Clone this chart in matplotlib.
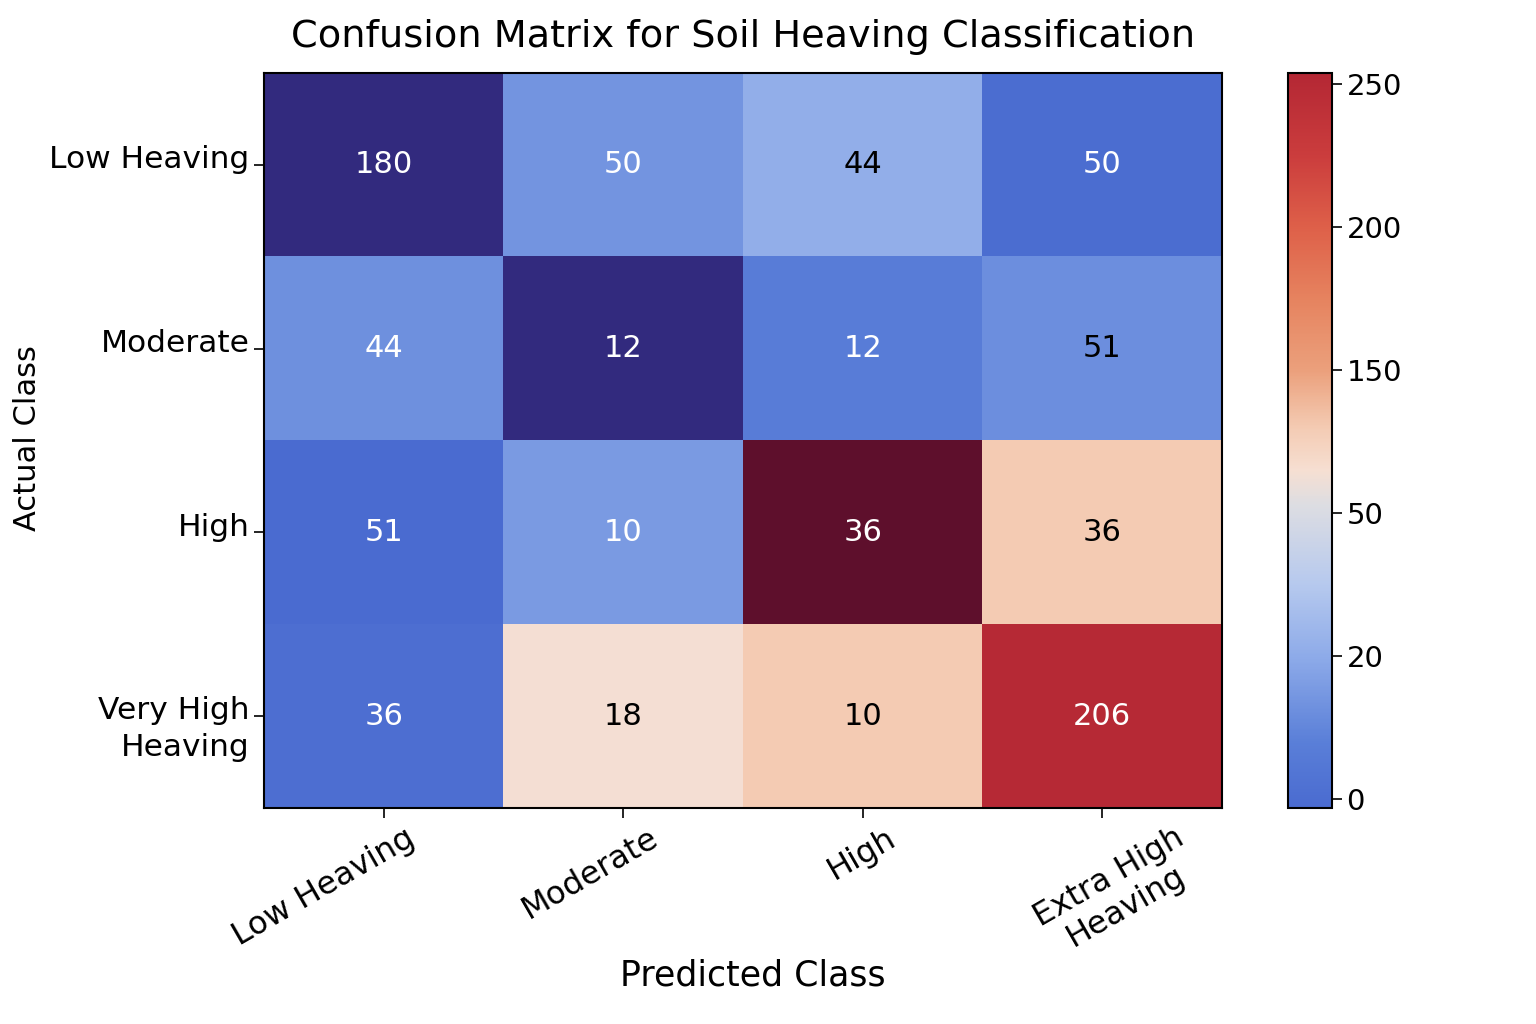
import numpy as np
import matplotlib
matplotlib.use("Agg")
import matplotlib.pyplot as plt
import matplotlib.transforms as mtransforms
from matplotlib.colors import LinearSegmentedColormap, Normalize

# ---- data ----
predicted_labels = ["Low Heaving", "Moderate", "High", "Extra High\nHeaving"]
actual_labels = ["Low Heaving", "Moderate", "High", "Very High\nHeaving"]

# numbers written in the cells
counts = [
    [180, 50, 44, 50],
    [44, 12, 12, 51],
    [51, 10, 36, 36],
    [36, 18, 10, 206],
]
# values that drive the cell colours
color_values = [
    [-50, 35, 53, 0],
    [32, -50, 18, 31],
    [-3, 39, 400, 130],
    [2, 114, 130, 250],
]
cbar_ticks = [0, 50, 100, 150, 200, 250]
cbar_ticklabels = ["0", "20", "50", "150", "200", "250"]

# ---- style ----
text_colors = [
    ["white", "white", "black", "white"],
    ["white", "white", "white", "black"],
    ["white", "white", "white", "black"],
    ["white", "black", "black", "white"],
]
vmin, vmax = -3, 254
anchors = [(-3, "#4a6bd0"), (20, "#5a7fd8"), (50, "#8eabe9"), (75, "#b6c9ee"),
           (103, "#dddde2"), (115, "#f6dfd2"), (130, "#f4cbb3"), (150, "#eba07c"),
           (175, "#e6835f"), (200, "#de6049"), (225, "#cb3d3d"), (254, "#b42734")]
xlabel_dx_px = [21, 25, 23, 72]

plt.rcParams["font.family"] = ["DejaVu Sans"]

cmap = LinearSegmentedColormap.from_list(
    "ref", [((v - vmin) / (vmax - vmin), c) for v, c in anchors], N=512)
cmap.set_under("#322a7e")
cmap.set_over("#5e0f2c")
norm = Normalize(vmin=vmin, vmax=vmax)

fig = plt.figure(figsize=(15.36, 10.24), dpi=100)
W, H = 1536, 1024
ax = fig.add_axes([264 / W, 1 - 808 / H, (1222 - 264) / W, (808 - 73) / H])
cax = fig.add_axes([1288 / W, 1 - 808 / H, 44 / W, (808 - 73) / H])

im = ax.imshow(np.array(color_values, dtype=float), cmap=cmap, norm=norm,
               aspect="auto", interpolation="nearest")

for i in range(len(actual_labels)):
    for j in range(len(predicted_labels)):
        ax.text(j, i, str(counts[i][j]), ha="center", va="center",
                fontsize=22, color=text_colors[i][j])

ax.set_xticks(range(len(predicted_labels)))
ax.set_xticklabels(predicted_labels, rotation=30, ha="right",
                   rotation_mode="anchor", multialignment="center",
                   linespacing=1.1, fontsize=23)
ax.set_yticks(range(len(actual_labels)))
ax.set_yticklabels(actual_labels, fontsize=22.5)
ax.tick_params(axis="both", length=7, width=1.2)
for s in ax.spines.values():
    s.set_linewidth(1.5)

for lab, d in zip(ax.get_xticklabels(), xlabel_dx_px):
    lab.set_transform(lab.get_transform() +
                      mtransforms.ScaledTranslation(d / 100, 0.0, fig.dpi_scale_trans))
ylabs = ax.get_yticklabels()
for lab in ylabs[:3]:
    lab.set_transform(lab.get_transform() +
                      mtransforms.ScaledTranslation(0.0, 0.08, fig.dpi_scale_trans))
ylabs[3].set_linespacing(1.35)
ylabs[3].set_transform(ylabs[3].get_transform() +
                       mtransforms.ScaledTranslation(0.0, -0.06, fig.dpi_scale_trans))

ax.set_xlabel("Predicted Class", fontsize=25, va="center")
ax.xaxis.set_label_coords((753 - 264) / 958, (808 - 975) / 735)
ax.set_ylabel("Actual Class", fontsize=22, va="center")
ax.yaxis.set_label_coords((28 - 264) / 958, (808 - 438) / 735)
ax.set_title("Confusion Matrix for Soil Heaving Classification", fontsize=27.5, pad=19)

cb = fig.colorbar(im, cax=cax)
cb.set_ticks(cbar_ticks)
cb.set_ticklabels(cbar_ticklabels)
cb.ax.tick_params(labelsize=21, length=7, width=1.2)
cb.outline.set_linewidth(1.5)

fig.savefig("out.png", dpi=100)
